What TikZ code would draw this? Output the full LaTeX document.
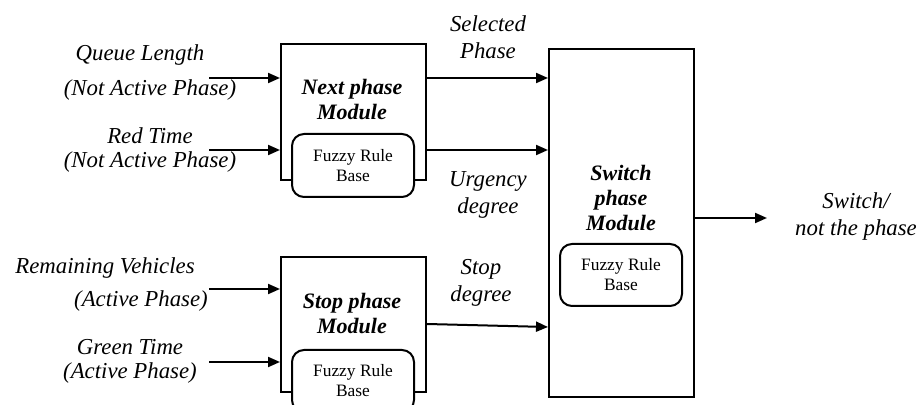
\documentclass[tikz,border=0pt]{standalone}
\usepackage{fontspec}
\setmainfont{Liberation Serif}
\usepackage{tikz}
\usetikzlibrary{positioning, arrows.meta, calc}

\tikzset{
  fz/module/.style={draw, line width=1pt, minimum width=72.5pt,
    inner sep=0pt},
  fz/rulebase/.style={draw, line width=1pt, rounded corners=6pt,
    fill=white, minimum width=61pt, inner sep=0pt, align=center,
    font=\fontsize{8.7}{10}\selectfont},
}

\begin{document}
\begin{tikzpicture}[
  x=0.5pt, y=-0.5pt,
  title/.style={font=\fontsize{11}{12.5}\selectfont\bfseries\itshape,
    align=center, inner sep=0pt},
  signal/.style={font=\fontsize{11.4}{13.5}\selectfont\itshape,
    align=center, inner sep=0pt},
  flow/.style={-{Triangle[length=6pt, width=5pt]}, line width=1pt},
]

% ── Canvas ───────────────────────────────────────────────
\path[use as bounding box, clip] (0,0) rectangle (916,405);

% ── Next phase module ────────────────────────────────────
\node[fz/module, minimum height=68pt] (next) at (353.5,112) {};
\node[title] (nextT) at (352,100) {Next phase\\Module};
\node[fz/rulebase, minimum height=31.5pt] (nextR) at (353,165.5)
  {Fuzzy Rule\\Base};

% ── Stop phase module ────────────────────────────────────
\node[fz/module, minimum height=67.5pt] (stop) at (353.5,325) {};
\node[title] (stopT) at (352,313) {Stop phase\\Module};
\node[fz/rulebase, minimum height=31pt] (stopR) at (353,381)
  {Fuzzy Rule\\Base};

% ── Switch phase module ──────────────────────────────────
\node[fz/module, minimum height=174pt] (switch) at (621.5,223) {};
\node[title] (switchT) at (621,198) {Switch\\phase\\Module};
\node[fz/rulebase, minimum height=31pt] (switchR) at (621,275)
  {Fuzzy Rule\\Base};

% ── Inputs ───────────────────────────────────────────────
\coordinate (inQ) at (209,78);
\coordinate (inR) at (209,150);
\coordinate (inV) at (209,289);
\coordinate (inG) at (209,362);

\node[signal] (lQ1) at (140,55) {Queue Length};
\node[signal] (lQ2) at (150,90) {(Not Active Phase)};
\node[signal] (lR1) at (150,136) {Red Time};
\node[signal] (lR2) at (150,162) {(Not Active Phase)};
\node[signal] (lV1) at (105,268) {Remaining Vehicles};
\node[signal] (lV2) at (141,301) {(Active Phase)};
\node[signal] (lG1) at (130,347) {Green Time};
\node[signal] (lG2) at (130,373) {(Active Phase)};

\draw[flow] (inQ) -- (next.west |- inQ);
\draw[flow] (inR) -- (next.west |- inR);
\draw[flow] (inV) -- (stop.west |- inV);
\draw[flow] (inG) -- (stop.west |- inG);

% ── Module outputs ───────────────────────────────────────
\coordinate (sd) at (0,324);
\coordinate (sdIn) at (0,327);
\coordinate (out) at (767,218);

\node[signal] (lSel) at (488,37) {Selected\\Phase};
\node[signal] (lUrg) at (488,195) {Urgency\\degree};
\node[signal] (lStp) at (481,283) {Stop\\degree};
\node[signal] (lOut) at (856,217) {Switch/\\not the phase};

\draw[flow] (next.east |- inQ) -- (switch.west |- inQ);
\draw[flow] (next.east |- inR) -- (switch.west |- inR);
\draw[flow] (stop.east |- sd) -- (switch.west |- sdIn);
\draw[flow] (switch.east |- out) -- (out);

\end{tikzpicture}
\end{document}
